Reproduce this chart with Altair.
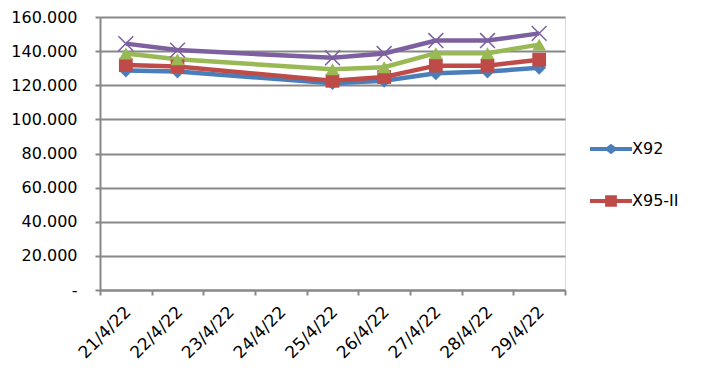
import altair as alt
import pandas as pd

dates = ["21/4/22", "22/4/22", "23/4/22", "24/4/22", "25/4/22", "26/4/22", "27/4/22", "28/4/22", "29/4/22"]
data_dates = ["21/4/22", "22/4/22", "25/4/22", "26/4/22", "27/4/22", "28/4/22", "29/4/22"]
series_names = ["X92", "X95-II", "DO 0,05S", "Dầu hỏa"]
legend_names = ["X92", "X95-II"]
x92 = [128.6, 128.0, 121.2, 122.6, 127.0, 128.0, 130.2]
x95 = [131.8, 131.0, 122.6, 124.8, 131.5, 131.5, 135.0]
do005 = [138.6, 135.2, 129.4, 130.6, 138.8, 138.8, 143.8]
kero = [144.4, 140.6, 136.1, 138.6, 146.2, 146.2, 150.4]
colors = ["#4A7EBB", "#BE4B48", "#98B954", "#7D60A0"]
shapes = ["diamond", "square", "triangle-up", "M-1,-1L1,1M-1,1L1,-1"]
legend_paths = [
    "M-1,-0.1L-0.2,-0.1L0,-0.25L0.2,-0.1L1,-0.1L1,0.1L0.2,0.1L0,0.25L-0.2,0.1L-1,0.1Z",
    "M-1,-0.1L-0.28,-0.1L-0.28,-0.27L0.28,-0.27L0.28,-0.1L1,-0.1L1,0.1L0.28,0.1L0.28,0.27L-0.28,0.27L-0.28,0.1L-1,0.1Z",
]

rows = []
for name, vals in zip(series_names, [x92, x95, do005, kero]):
    for d, v in zip(data_dates, vals):
        rows.append({"date": d, "series": name, "value": v})
df = pd.DataFrame(rows)

FONT = "DejaVu Sans"
GRID = "#888888"

x_enc = alt.X("date:N", sort=dates,
              scale=alt.Scale(domain=dates, paddingInner=0, paddingOuter=0),
              axis=alt.Axis(title=None, labelAngle=-45, labelAlign="right", labelBaseline="middle",
                            tickBand="extent", domainColor=GRID, domainWidth=2,
                            tickColor=GRID, tickWidth=2, tickSize=5,
                            labelFont=FONT, labelFontSize=17, labelColor="#000000",
                            labelPadding=14, labelOffset=2, labelOverlap=False, grid=False))
y_enc = alt.Y("value:Q",
              scale=alt.Scale(domain=[0, 160], nice=False),
              axis=alt.Axis(title=None, values=[0, 20, 40, 60, 80, 100, 120, 140, 160],
                            labelExpr="datum.value == 0 ? '-' : format(datum.value, '.3f')",
                            grid=True, gridColor=GRID, gridWidth=2,
                            domainColor=GRID, domainWidth=2, tickColor=GRID, tickWidth=2, tickSize=5,
                            labelFont=FONT, labelFontSize=16, labelColor="#000000", labelPadding=18))

color_scale = alt.Scale(domain=series_names, range=colors)

lines = alt.Chart(df).mark_line(strokeWidth=4.5).encode(
    x=x_enc, y=y_enc,
    color=alt.Color("series:N", scale=color_scale, legend=None),
)

filled_pts = alt.Chart(df).transform_filter(
    alt.FieldOneOfPredicate(field="series", oneOf=series_names[:3])
).mark_point(filled=True, opacity=1, size=190).encode(
    x=x_enc, y=y_enc,
    color=alt.Color("series:N", scale=color_scale, legend=None),
    shape=alt.Shape("series:N", scale=alt.Scale(domain=series_names, range=shapes), legend=None),
)

cross_pts = alt.Chart(df).transform_filter(
    alt.FieldEqualPredicate(field="series", equal=series_names[3])
).mark_point(filled=False, opacity=1, size=220, strokeWidth=1.5,
             shape="M-1,-1L1,1M-1,1L1,-1").encode(
    x=x_enc, y=y_enc,
    color=alt.Color("series:N", scale=color_scale, legend=None),
)

legend_cfg = dict(title=None, orient="none", legendX=490, legendY=111,
                  symbolSize=1764, symbolStrokeWidth=0, symbolOpacity=1,
                  labelFont=FONT, labelFontSize=16, labelColor="#000000",
                  labelOffset=0, rowPadding=23)

legend_layer = alt.Chart(df).transform_filter("datum.value < 0").mark_point(
    filled=True, opacity=1
).encode(
    x=x_enc, y=y_enc,
    color=alt.Color("series:N", scale=alt.Scale(domain=legend_names, range=colors[:2]),
                    legend=alt.Legend(**legend_cfg)),
    shape=alt.Shape("series:N", scale=alt.Scale(domain=legend_names, range=legend_paths),
                    legend=alt.Legend(**legend_cfg)),
)

chart = alt.layer(lines, filled_pts, cross_pts, legend_layer).resolve_scale(
    color="independent", shape="independent"
).properties(
    width=465, height=273,
    autosize=alt.AutoSizeParams(type="none"),
    padding={"left": 92, "top": 9, "right": 130, "bottom": 85},
).configure_view(stroke=None).configure(background="#ffffff")

chart.save("out.html", embed_options={"renderer": "svg", "actions": False})
